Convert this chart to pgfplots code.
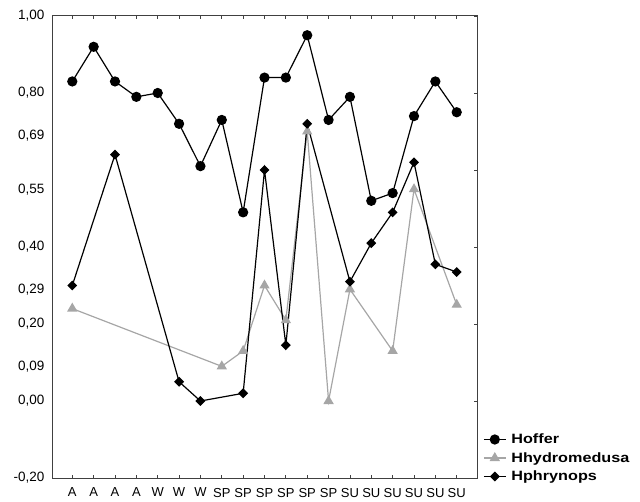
\documentclass[border=0pt]{standalone}
\usepackage{fontspec}
\setmainfont{Liberation Sans}
\newfontfamily\legfont[FakeStretch=1.2]{Liberation Sans}
\usepackage{pgfplots}
\pgfplotsset{compat=1.18}
\definecolor{hgray}{HTML}{A6A6A6}
\definecolor{framecol}{HTML}{404040}

\begin{document}
\begin{tikzpicture}
\path[use as bounding box] (-52pt,-23pt) rectangle (588pt,478pt);
\begin{axis}[
  scale only axis, width=425pt, height=462pt,
  xmin=-0.95, xmax=18.95, ymin=-0.2, ymax=1,
  xtick={0,...,18},
  xticklabels={A,A,A,A,W,W,W,SP,SP,SP,SP,SP,SP,SU,SU,SU,SU,SU,SU},
  ytick={-0.2,0,0.09,0.2,0.29,0.4,0.55,0.69,0.8,1},
  yticklabels={{-0,20},{0,00},{0,09},{0,20},{0,29},{0,40},{0,55},{0,69},{0,80},{1,00}},
  ytick style={draw=none},
  major tick length=3pt,
  tick style={framecol, line width=0.8pt},
  axis line style={framecol, line width=1pt},
  xticklabel style={font=\fontsize{13}{13}\selectfont, yshift=-6.5pt},
  yticklabel style={font=\fontsize{13.5}{13.5}\selectfont, xshift=-4pt},
  legend cell align=left,
  legend image code/.code={%
    \draw[mark repeat=2,mark phase=2,#1] plot coordinates {(0pt,0.8pt) (11pt,0.8pt) (22pt,0.8pt)};},
  legend style={at={(axis description cs:1,0)}, anchor=south west,
    xshift=6pt, yshift=-6pt, draw=none, fill=none, inner sep=0pt,
    row sep=5.5pt,
    /tikz/every odd column/.append style={column sep=5pt},
    nodes={inner sep=0pt, text height=10pt, text depth=3pt},
    font=\legfont\bfseries\fontsize{13.5}{13.5}\selectfont},
]
% Hoffer
\addplot[black, line width=1.2pt, mark=*, mark size=4.5pt] coordinates {
(0,0.83) (1,0.92) (2,0.83) (3,0.79) (4,0.80) (5,0.72) (6,0.61)
(7,0.73) (8,0.49) (9,0.84) (10,0.84) (11,0.95) (12,0.73)
(13,0.79) (14,0.52) (15,0.54) (16,0.74) (17,0.83) (18,0.75)
};
\addlegendentry{Hoffer}
% Hhydromedusa
\addplot[hgray, line width=1.2pt, mark=triangle*, mark size=4.8pt] coordinates {
(0,0.24) (7,0.09) (8,0.13) (9,0.30) (10,0.21) (11,0.70)
(12,0.00) (13,0.29) (15,0.13) (16,0.55) (18,0.25)
};
\addlegendentry{Hhydromedusa}
% Hphrynops
\addplot[black, line width=1.2pt, mark=square*, mark size=2.9pt, mark options={rotate=45}] coordinates {
(0,0.30) (2,0.64) (5,0.05) (6,0.00) (8,0.02) (9,0.60) (10,0.145)
(11,0.72) (13,0.31) (14,0.41) (15,0.49) (16,0.62) (17,0.355) (18,0.335)
};
\addlegendentry{Hphrynops}
\end{axis}
\begin{axis}[
  scale only axis, width=425pt, height=462pt,
  xmin=-0.95, xmax=18.95, ymin=-0.2, ymax=1,
  xtick=\empty,
  ytick={-0.2,0,0.2,0.4,0.6,0.8,1},
  ytick pos=right, yticklabels={},
  major tick length=3pt,
  tick style={framecol, line width=0.8pt},
  axis line style={draw=none},
]
\end{axis}
\end{tikzpicture}
\end{document}
